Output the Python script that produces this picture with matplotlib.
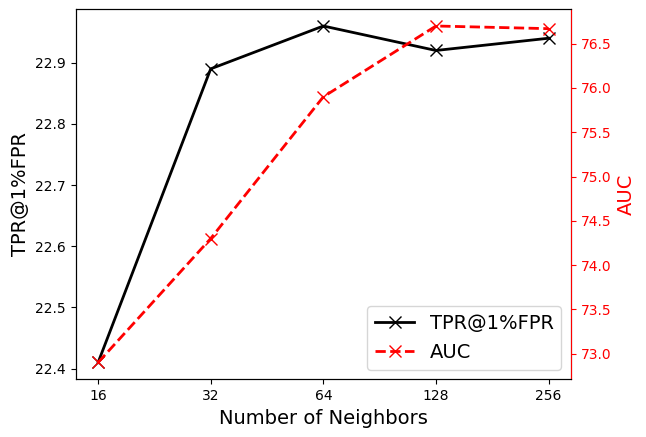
import matplotlib
matplotlib.use("Agg")
import matplotlib.pyplot as plt

neighbors = [16, 32, 64, 128, 256]
tpr = [22.41, 22.89, 22.96, 22.92, 22.94]
auc = [72.9, 74.3, 75.9, 76.7, 76.67]

fig = plt.figure(figsize=(6.46, 4.37), dpi=100)
ax = fig.add_axes([0.117, 0.132, 0.767, 0.847])
xs = list(range(len(neighbors)))

l1, = ax.plot(xs, tpr, color="black", marker="x", markersize=8, linewidth=2,
              label="TPR@1%FPR")
ax.set_xticks(xs)
ax.set_xticklabels([str(n) for n in neighbors])
ax.set_xlabel("Number of Neighbors", fontsize=14)
ax.set_ylabel("TPR@1%FPR", fontsize=14)

ax2 = ax.twinx()
l2, = ax2.plot(xs, auc, color="red", marker="x", markersize=8, linewidth=2,
               linestyle="--", label="AUC")
ax2.set_ylabel("AUC", fontsize=14, color="red")
ax2.tick_params(axis="y", colors="red")
ax2.spines["right"].set_color("red")

ax.legend([l1, l2], ["TPR@1%FPR", "AUC"], loc="lower right", fontsize=14)

fig.savefig("out.png", dpi=100)
